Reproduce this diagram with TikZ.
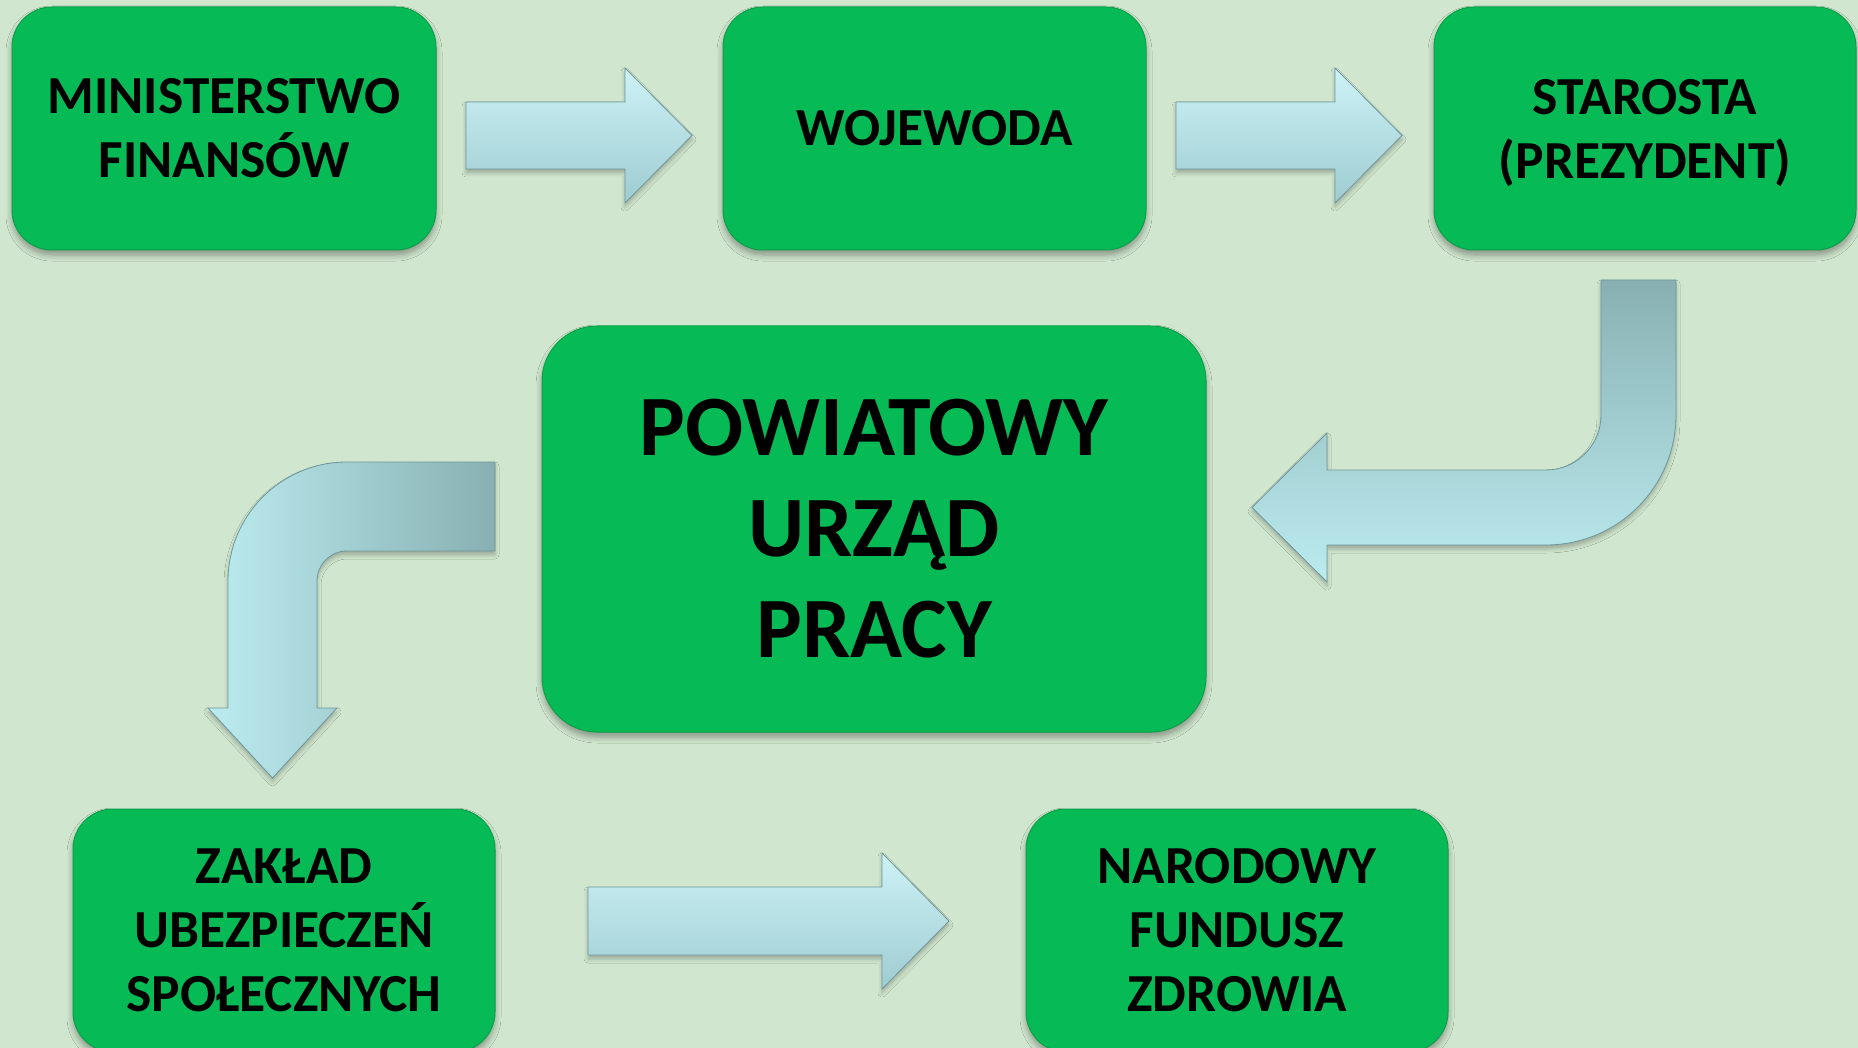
\documentclass[tikz,border=0pt]{standalone}
\usepackage{fontspec}
\setmainfont{Carlito}
\usetikzlibrary{shadows,shadows.blur}
\definecolor{bg}{RGB}{208,230,206}
\definecolor{boxgreen}{RGB}{6,187,86}
\definecolor{boxedge}{RGB}{10,160,72}
\definecolor{al1}{RGB}{205,242,246}
\definecolor{al2}{RGB}{158,204,209}
\definecolor{alight}{RGB}{188,236,240}
\definecolor{adark}{RGB}{136,176,178}
\definecolor{aedge}{RGB}{110,150,155}
\begin{document}
\begin{tikzpicture}[x=1pt,y=-1pt,
  box/.style={rounded corners=40pt, fill=boxgreen, draw=boxedge, line width=1pt,
    align=center, inner sep=0pt, text=black,
    font=\bfseries\fontsize{53.5}{64}\selectfont,
    blur shadow={shadow xshift=0pt, shadow yshift=-5pt, shadow blur radius=6pt,
      shadow blur steps=6, shadow opacity=35}},
  sarrow/.style={draw=aedge, line width=0.8pt, top color=al1, bottom color=al2,
    blur shadow={shadow xshift=0pt, shadow yshift=-4pt, shadow blur radius=4pt,
      shadow blur steps=5, shadow opacity=25}},
  barrowv/.style={draw=aedge, line width=0.8pt, top color=adark, bottom color=alight,
    blur shadow={shadow xshift=0pt, shadow yshift=-4pt, shadow blur radius=4pt,
      shadow blur steps=5, shadow opacity=25}},
  barrowh/.style={draw=aedge, line width=0.8pt, left color=alight, right color=adark,
    blur shadow={shadow xshift=0pt, shadow yshift=-4pt, shadow blur radius=4pt,
      shadow blur steps=5, shadow opacity=25}}
]
\fill[bg] (0,0) rectangle (1858,1048);
\useasboundingbox (0,0) rectangle (1858,1048);

% boxes
\node[box, minimum width=424pt, minimum height=243pt] (mf) at (224,128.5) {MINISTERSTWO\\FINANSÓW};
\node[box, minimum width=423pt, minimum height=243pt] (woj) at (934.5,128.5) {WOJEWODA};
\node[box, minimum width=422pt, minimum height=243pt, text depth=0pt] (sta) at (1645,128.5) {STAROSTA\\(PREZYDENT)};
\node[box, rounded corners=55pt, minimum width=664pt, minimum height=406pt,
  font=\bfseries\fontsize{86}{101}\selectfont] (pup) at (874,529) {POWIATOWY\\URZĄD\\PRACY};
\node[box, minimum width=422pt, minimum height=243pt] (zus) at (284,930.5) {ZAKŁAD\\UBEZPIECZEŃ\\SPOŁECZNYCH};
\node[box, minimum width=422pt, minimum height=243pt] (nfz) at (1237,930.5) {NARODOWY\\FUNDUSZ\\ZDROWIA};

% straight arrows
\draw[sarrow] (466,102) -- (625,102) -- (625,68) -- (692,135.5) -- (625,203) -- (625,169) -- (466,169) -- cycle;
\draw[sarrow] (1176,102) -- (1335,102) -- (1335,68) -- (1402,135.5) -- (1335,203) -- (1335,169) -- (1176,169) -- cycle;
\draw[sarrow] (588,887) -- (882,887) -- (882,853) -- (949,921) -- (882,989) -- (882,955) -- (588,955) -- cycle;

% bent arrow: starosta -> PUP
\draw[barrowv] (1601,280) -- (1676,280) -- (1676,415) arc[start angle=0, end angle=90, radius=130]
  -- (1327,545) -- (1327,582) -- (1252,507.5) -- (1327,433) -- (1327,470) -- (1546,470)
  arc[start angle=90, end angle=0, radius=55] -- cycle;

% bent arrow: PUP -> ZUS
\draw[barrowh] (495,462) -- (347,462) arc[start angle=270, end angle=180, radius=119]
  -- (228,708) -- (208,708) -- (272.5,778) -- (337,708) -- (317,708) -- (317,581)
  arc[start angle=180, end angle=270, radius=30] -- (495,551) -- cycle;
\end{tikzpicture}
\end{document}
